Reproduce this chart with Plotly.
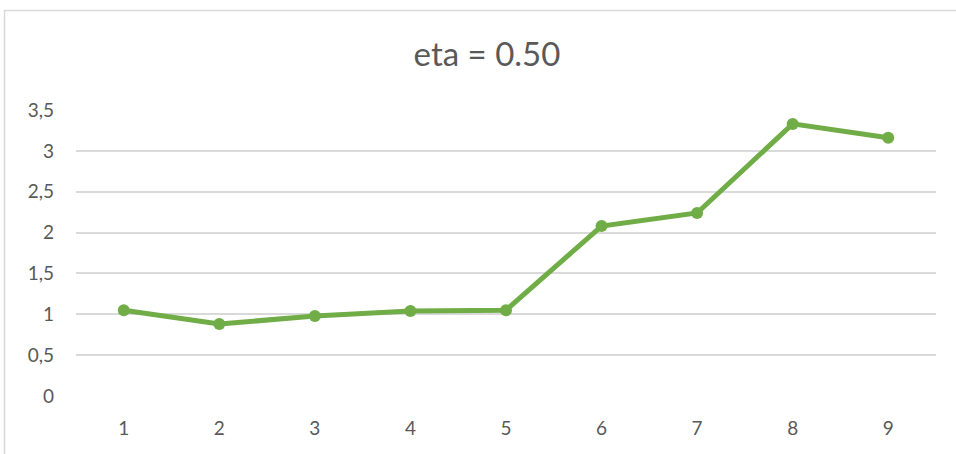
import plotly.graph_objects as go

# Series data
categories = ["1", "2", "3", "4", "5", "6", "7", "8", "9"]
values = [1.05, 0.88, 0.98, 1.04, 1.05, 2.08, 2.24, 3.33, 3.16]
y_ticks = [0, 0.5, 1, 1.5, 2, 2.5, 3, 3.5]

GREEN = "#70AD47"
TEXT = "#595959"
GRID = "#D9D9D9"
FONT = "Lato, 'Open Sans', sans-serif"

W, H = 956, 454
ML, MR, MT, MB = 76, 20, 110, 58
pw, ph = W - ML - MR, H - MT - MB

fig = go.Figure()
fig.add_trace(go.Scatter(
    x=categories, y=values, mode="lines+markers",
    line=dict(color=GREEN, width=5),
    marker=dict(color=GREEN, size=12),
    showlegend=False, hoverinfo="skip",
))

# light chart-area frame (left and top edges visible)
fig.add_shape(
    type="rect", xref="paper", yref="paper",
    x0=(4.5 - ML) / pw, x1=1.2,
    y0=-0.6, y1=(H - MB - 10.5) / ph,
    line=dict(color=GRID, width=1.5), fillcolor="rgba(0,0,0,0)", layer="below",
)

fig.update_layout(
    width=W, height=H,
    margin=dict(l=ML, r=MR, t=MT, b=MB, pad=0),
    paper_bgcolor="white", plot_bgcolor="white",
    separators=",.",
    font=dict(family=FONT, color=TEXT, size=19),
    title=dict(text="eta = 0.50", x=487 / W, xref="container", xanchor="center",
               y=1 - 54 / H, yanchor="middle",
               font=dict(family=FONT, size=33, color=TEXT)),
    xaxis=dict(
        type="category", showgrid=False, zeroline=False, showline=False,
        ticks="", ticklabelstandoff=19, tickfont=dict(size=19, color=TEXT),
        range=[-0.5, 8.5],
    ),
    yaxis=dict(
        range=[0, 3.5], tickvals=y_ticks, showgrid=True, gridcolor=GRID,
        gridwidth=1.5, zeroline=False, showline=False, ticks="",
        ticklabelstandoff=21, tickfont=dict(size=19, color=TEXT),
        tickformat="~g",
    ),
)

fig.write_html("out.html")
